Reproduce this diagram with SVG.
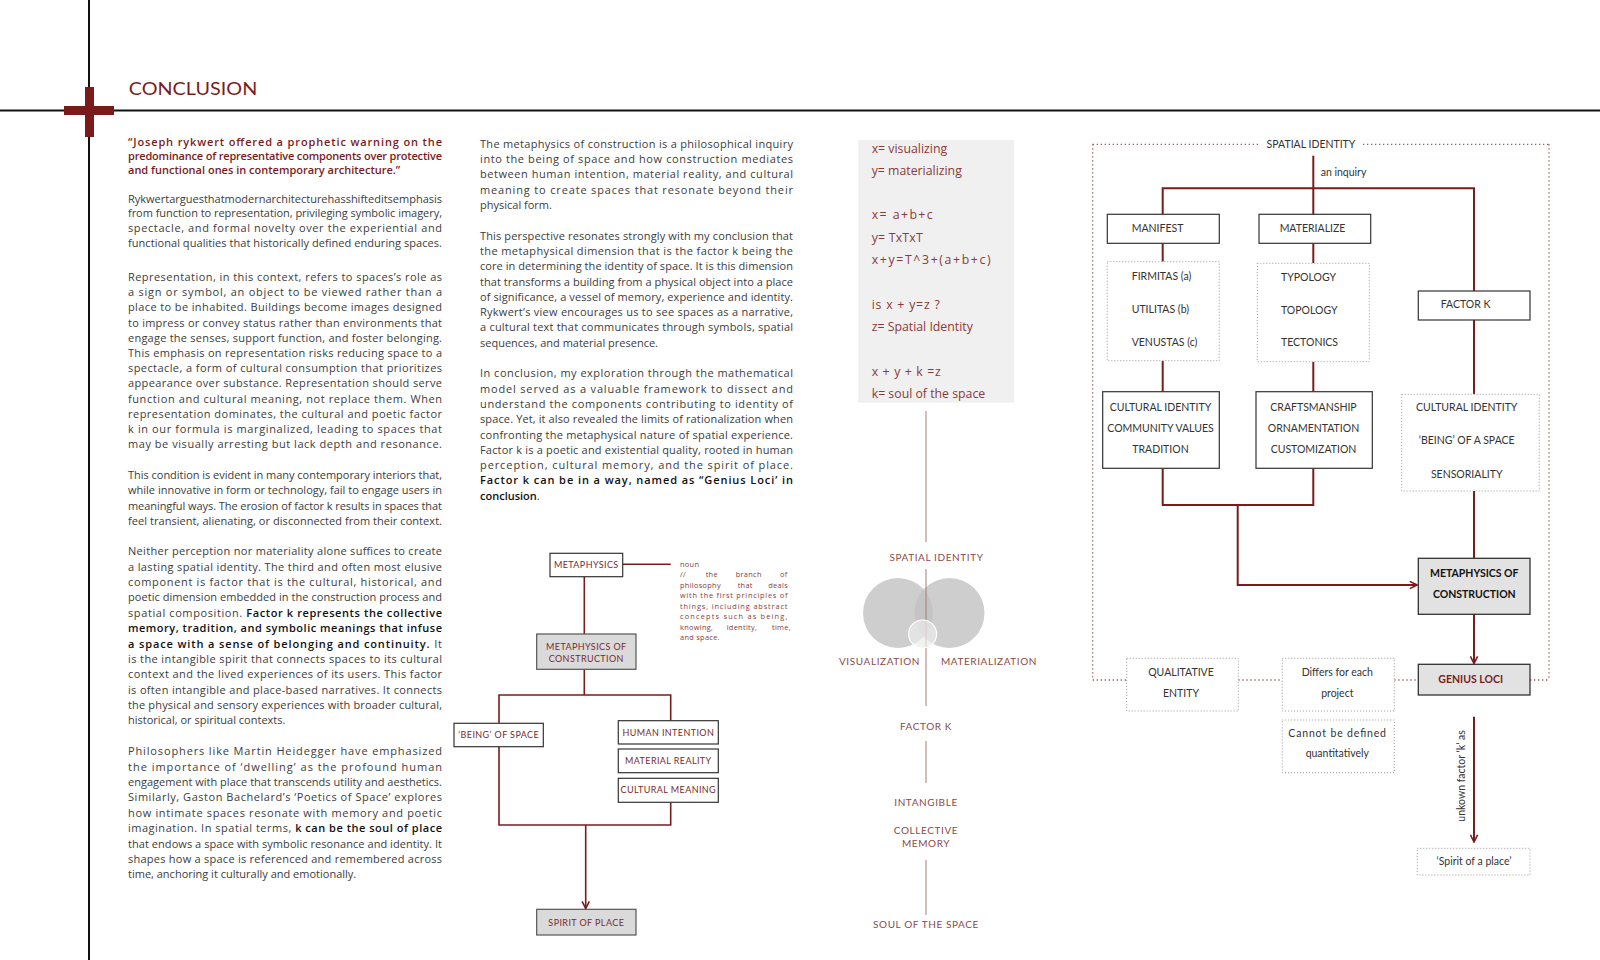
<svg xmlns="http://www.w3.org/2000/svg" width="1600" height="960" viewBox="0 0 1600 960">
<defs>
<style>
text{font-family:Lato,"Liberation Sans",sans-serif}
.body{font-family:"Open Sans","Liberation Sans",sans-serif;font-size:11px;fill:#3c3c3c}
.b{font-weight:600;fill:#111}
.quote{font-family:"Open Sans","Liberation Sans",sans-serif;font-size:11px;font-weight:600;fill:#7b1c1c}
.conn{stroke:#7b1c1c;stroke-width:2;fill:none}
.conn2{stroke:#7b1c1c;stroke-width:1.6;fill:none}
.thin{stroke:#a87a7a;stroke-width:1;fill:none}
.box{fill:#fff;stroke:#333;stroke-width:1.2}
.gbox{fill:#dadada;stroke:#555;stroke-width:1.2}
.gbox2{fill:#e2e2e2;stroke:#333;stroke-width:1.3}
.dbox{fill:#fff;stroke:#9a9a9a;stroke-width:1;stroke-dasharray:1 2}
.frame{fill:none;stroke:#9a5a5a;stroke-width:1.3;stroke-dasharray:1.3 2.7}
.lab{font-size:10.5px;fill:#333;text-anchor:middle}
.labs{font-size:10.5px;fill:#333}
.fl{font-size:9px;fill:#7b2a2a;text-anchor:middle;letter-spacing:0.4px}
.def{font-family:"Open Sans","Liberation Sans",sans-serif;font-size:7.4px;fill:#8b3b3b;letter-spacing:0.3px}
.fm{font-family:"Open Sans","Liberation Sans",sans-serif;font-size:12.3px;fill:#8b3a3a}
.cl{font-size:10px;fill:#8b4a4a;text-anchor:middle;letter-spacing:0.6px}
</style>
<marker id="chev" viewBox="0 0 10 10" refX="9" refY="5" markerWidth="9" markerHeight="9" orient="auto" markerUnits="userSpaceOnUse">
<path d="M1,1 L9,5 L1,9" fill="none" stroke="#7b1c1c" stroke-width="1.8"/>
</marker>
</defs>
<rect width="1600" height="960" fill="#fff"/>

<g id="page-frame">
<line x1="0" y1="110.5" x2="1600" y2="110.5" stroke="#111" stroke-width="2"/>
<line x1="89" y1="0" x2="89" y2="960" stroke="#111" stroke-width="2"/>
<rect x="85" y="87" width="9" height="50" fill="#7a1b1b"/>
<rect x="64" y="106" width="50" height="9" fill="#7a1b1b"/>
<text x="128.7" y="95" font-size="18" fill="#7b1c1c" textLength="128.6" lengthAdjust="spacingAndGlyphs">CONCLUSION</text>
</g>

<g id="col1-text">
<text class="quote" x="128" y="145.5" textLength="314" lengthAdjust="spacing">“Joseph rykwert offered a prophetic warning on the</text>
<text class="quote" x="128" y="159.8" textLength="314" lengthAdjust="spacing">predominance of representative components over protective</text>
<text class="quote" x="128" y="174.1">and functional ones in contemporary architecture.”</text>

<text class="body" x="128" y="202.6" textLength="314" lengthAdjust="spacing">Rykwertarguesthatmodernarchitecturehasshifteditsemphasis</text>
<text class="body" x="128" y="217.3" textLength="314" lengthAdjust="spacing">from function to representation, privileging symbolic imagery,</text>
<text class="body" x="128" y="232" textLength="314" lengthAdjust="spacing">spectacle, and formal novelty over the experiential and</text>
<text class="body" x="128" y="246.7" textLength="314" lengthAdjust="spacing">functional qualities that historically defined enduring spaces.</text>

<text class="body" x="128" y="281" textLength="314" lengthAdjust="spacing">Representation, in this context, refers to spaces’s role as</text>
<text class="body" x="128" y="296.2" textLength="314" lengthAdjust="spacing">a sign or symbol, an object to be viewed rather than a</text>
<text class="body" x="128" y="311.4" textLength="314" lengthAdjust="spacing">place to be inhabited. Buildings become images designed</text>
<text class="body" x="128" y="326.6" textLength="314" lengthAdjust="spacing">to impress or convey status rather than environments that</text>
<text class="body" x="128" y="341.8" textLength="314" lengthAdjust="spacing">engage the senses, support function, and foster belonging.</text>
<text class="body" x="128" y="357" textLength="314" lengthAdjust="spacing">This emphasis on representation risks reducing space to a</text>
<text class="body" x="128" y="372.2" textLength="314" lengthAdjust="spacing">spectacle, a form of cultural consumption that prioritizes</text>
<text class="body" x="128" y="387.4" textLength="314" lengthAdjust="spacing">appearance over substance. Representation should serve</text>
<text class="body" x="128" y="402.6" textLength="314" lengthAdjust="spacing">function and cultural meaning, not replace them. When</text>
<text class="body" x="128" y="417.8" textLength="314" lengthAdjust="spacing">representation dominates, the cultural and poetic factor</text>
<text class="body" x="128" y="433" textLength="314" lengthAdjust="spacing">k in our formula is marginalized, leading to spaces that</text>
<text class="body" x="128" y="448.2" textLength="314" lengthAdjust="spacing">may be visually arresting but lack depth and resonance.</text>

<text class="body" x="128" y="479" textLength="314" lengthAdjust="spacing">This condition is evident in many contemporary interiors that,</text>
<text class="body" x="128" y="494.3" textLength="314" lengthAdjust="spacing">while innovative in form or technology, fail to engage users in</text>
<text class="body" x="128" y="509.6" textLength="314" lengthAdjust="spacing">meaningful ways. The erosion of factor k results in spaces that</text>
<text class="body" x="128" y="524.9" textLength="314" lengthAdjust="spacing">feel transient, alienating, or disconnected from their context.</text>

<text class="body" x="128" y="555.3" textLength="314" lengthAdjust="spacing">Neither perception nor materiality alone suffices to create</text>
<text class="body" x="128" y="570.6" textLength="314" lengthAdjust="spacing">a lasting spatial identity. The third and often most elusive</text>
<text class="body" x="128" y="586" textLength="314" lengthAdjust="spacing">component is factor that is the cultural, historical, and</text>
<text class="body" x="128" y="601.4" textLength="314" lengthAdjust="spacing">poetic dimension embedded in the construction process and</text>
<text class="body" x="128" y="616.8" textLength="314" lengthAdjust="spacing">spatial composition. <tspan class="b">Factor k represents the collective</tspan></text>
<text class="body" x="128" y="632.1" textLength="314" lengthAdjust="spacing"><tspan class="b">memory, tradition, and symbolic meanings that infuse</tspan></text>
<text class="body" x="128" y="647.5" textLength="314" lengthAdjust="spacing"><tspan class="b">a space with a sense of belonging and continuity.</tspan> It</text>
<text class="body" x="128" y="662.9" textLength="314" lengthAdjust="spacing">is the intangible spirit that connects spaces to its cultural</text>
<text class="body" x="128" y="678.3" textLength="314" lengthAdjust="spacing">context and the lived experiences of its users. This factor</text>
<text class="body" x="128" y="693.6" textLength="314" lengthAdjust="spacing">is often intangible and place-based narratives. It connects</text>
<text class="body" x="128" y="709" textLength="314" lengthAdjust="spacing">the physical and sensory experiences with broader cultural,</text>
<text class="body" x="128" y="724.4">historical, or spiritual contexts.</text>

<text class="body" x="128" y="755.2" textLength="314" lengthAdjust="spacing">Philosophers like Martin Heidegger have emphasized</text>
<text class="body" x="128" y="770.6" textLength="314" lengthAdjust="spacing">the importance of ‘dwelling’ as the profound human</text>
<text class="body" x="128" y="786" textLength="314" lengthAdjust="spacing">engagement with place that transcends utility and aesthetics.</text>
<text class="body" x="128" y="801.3" textLength="314" lengthAdjust="spacing">Similarly, Gaston Bachelard’s ‘Poetics of Space’ explores</text>
<text class="body" x="128" y="816.7" textLength="314" lengthAdjust="spacing">how intimate spaces resonate with memory and poetic</text>
<text class="body" x="128" y="832.1" textLength="314" lengthAdjust="spacing">imagination. In spatial terms, <tspan class="b">k can be the soul of place</tspan></text>
<text class="body" x="128" y="847.5" textLength="314" lengthAdjust="spacing">that endows a space with symbolic resonance and identity. It</text>
<text class="body" x="128" y="862.8" textLength="314" lengthAdjust="spacing">shapes how a space is referenced and remembered across</text>
<text class="body" x="128" y="878.2">time, anchoring it culturally and emotionally.</text>
</g>

<g id="col2-text">
<text class="body" x="480" y="147.8" textLength="313" lengthAdjust="spacing">The metaphysics of construction is a philosophical inquiry</text>
<text class="body" x="480" y="163.1" textLength="313" lengthAdjust="spacing">into the being of space and how construction mediates</text>
<text class="body" x="480" y="178.4" textLength="313" lengthAdjust="spacing">between human intention, material reality, and cultural</text>
<text class="body" x="480" y="193.7" textLength="313" lengthAdjust="spacing">meaning to create spaces that resonate beyond their</text>
<text class="body" x="480" y="209">physical form.</text>

<text class="body" x="480" y="239.6" textLength="313" lengthAdjust="spacing">This perspective resonates strongly with my conclusion that</text>
<text class="body" x="480" y="254.9" textLength="313" lengthAdjust="spacing">the metaphysical dimension that is the factor k being the</text>
<text class="body" x="480" y="270.2" textLength="313" lengthAdjust="spacing">core in determining the identity of space. It is this dimension</text>
<text class="body" x="480" y="285.5" textLength="313" lengthAdjust="spacing">that transforms a building from a physical object into a place</text>
<text class="body" x="480" y="300.8" textLength="313" lengthAdjust="spacing">of significance, a vessel of memory, experience and identity.</text>
<text class="body" x="480" y="316.1" textLength="313" lengthAdjust="spacing">Rykwert’s view encourages us to see spaces as a narrative,</text>
<text class="body" x="480" y="331.4" textLength="313" lengthAdjust="spacing">a cultural text that communicates through symbols, spatial</text>
<text class="body" x="480" y="346.7">sequences, and material presence.</text>

<text class="body" x="480" y="377.3" textLength="313" lengthAdjust="spacing">In conclusion, my exploration through the mathematical</text>
<text class="body" x="480" y="392.6" textLength="313" lengthAdjust="spacing">model served as a valuable framework to dissect and</text>
<text class="body" x="480" y="407.9" textLength="313" lengthAdjust="spacing">understand the components contributing to identity of</text>
<text class="body" x="480" y="423.2" textLength="313" lengthAdjust="spacing">space. Yet, it also revealed the limits of rationalization when</text>
<text class="body" x="480" y="438.5" textLength="313" lengthAdjust="spacing">confronting the metaphysical nature of spatial experience.</text>
<text class="body" x="480" y="453.8" textLength="313" lengthAdjust="spacing">Factor k is a poetic and existential quality, rooted in human</text>
<text class="body" x="480" y="469.1" textLength="313" lengthAdjust="spacing">perception, cultural memory, and the spirit of place.</text>
<text class="body" x="480" y="484.4" textLength="313" lengthAdjust="spacing"><tspan class="b">Factor k can be in a way, named as “Genius Loci’ in</tspan></text>
<text class="body" x="480" y="499.7"><tspan class="b">conclusion</tspan>.</text>
</g>

<g id="col2-connectors">
<path class="conn2" d="M622.7,564.3 H670.7"/>
<path class="conn2" d="M584.3,576.7 V634"/>
<path class="conn2" d="M584.3,669.3 V695"/>
<path class="conn2" d="M499,723.3 V695 H670.7 V720.7"/>
<path class="conn2" d="M499,746.7 V825 H670.7 V802.3"/>
<path class="conn2" d="M585.7,825 V908.5" marker-end="url(#chev)"/>
</g>
<g id="node-metaphysics">
<rect class="box" x="550" y="553.3" width="72.7" height="23.4"/>
<text class="fl" x="586.3" y="567.5">METAPHYSICS</text>
</g>
<g id="node-definition">
<text class="def" x="680" y="566.7">noun</text>
<text class="def" y="577.2"><tspan x="680">//</tspan> <tspan x="705.7">the</tspan> <tspan x="735.7">branch</tspan> <tspan x="780">of</tspan></text>
<text class="def" y="587.7"><tspan x="680">philosophy</tspan> <tspan x="737.7">that</tspan> <tspan x="768.3">deals</tspan></text>
<text class="def" x="680" y="598.2" textLength="107.7" lengthAdjust="spacing">with the first principles of</text>
<text class="def" x="680" y="608.7" textLength="107.7" lengthAdjust="spacing">things, including abstract</text>
<text class="def" x="680" y="619.2" textLength="107.7" lengthAdjust="spacing">concepts such as being,</text>
<text class="def" y="629.7"><tspan x="680">knowing,</tspan> <tspan x="726.7">identity,</tspan> <tspan x="772">time,</tspan></text>
<text class="def" x="680" y="640.2">and space.</text>
</g>
<g id="node-moc-left">
<rect class="gbox" x="536.7" y="634" width="99.3" height="35.3"/>
<text class="fl" x="586.3" y="649.5">METAPHYSICS OF</text>
<text class="fl" x="586.3" y="661.5">CONSTRUCTION</text>
</g>
<g id="node-being">
<rect class="box" x="454" y="723.3" width="89.3" height="23.4"/>
<text class="fl" x="498.7" y="737.8">‘BEING’ OF SPACE</text>
</g>
<g id="node-human">
<rect class="box" x="618.3" y="720.7" width="100" height="23.3"/>
<text class="fl" x="668.3" y="735.5">HUMAN INTENTION</text>
</g>
<g id="node-material">
<rect class="box" x="618.3" y="749" width="100" height="23.7"/>
<text class="fl" x="668.3" y="763.5">MATERIAL REALITY</text>
</g>
<g id="node-cultural">
<rect class="box" x="618.3" y="778.3" width="100" height="24"/>
<text class="fl" x="668.3" y="793">CULTURAL MEANING</text>
</g>
<g id="node-spirit">
<rect class="gbox" x="536.7" y="909.3" width="99.3" height="25.7"/>
<text class="fl" x="586.3" y="925.7">SPIRIT OF PLACE</text>
</g>

<g id="node-formula">
<rect x="858.3" y="140" width="155.7" height="262.7" fill="#f0f0f0"/>
<text class="fm" x="871.7" y="152.5">x= visualizing</text>
<text class="fm" x="871.7" y="174.8">y= materializing</text>
<text class="fm" x="871.7" y="219.4" textLength="61" lengthAdjust="spacing">x= a+b+c</text>
<text class="fm" x="871.7" y="241.7" textLength="51" lengthAdjust="spacing">y= TxTxT</text>
<text class="fm" x="871.7" y="264" textLength="119" lengthAdjust="spacing">x+y=T^3+(a+b+c)</text>
<text class="fm" x="871.7" y="308.5" textLength="68" lengthAdjust="spacing">is x + y=z ?</text>
<text class="fm" x="871.7" y="330.8">z= Spatial Identity</text>
<text class="fm" x="871.7" y="375.5" textLength="69" lengthAdjust="spacing">x + y + k =z</text>
<text class="fm" x="871.7" y="397.8">k= soul of the space</text>
</g>
<g id="col3-connectors">
<path class="thin" d="M926,411 V542"/>
<path class="thin" d="M926,741 V783"/>
<path class="thin" d="M926,860 V915"/>
</g>
<g id="node-venn">
<circle cx="898" cy="613" r="35" fill="#c2c2c2" fill-opacity="0.8"/>
<circle cx="949.5" cy="613" r="35" fill="#c2c2c2" fill-opacity="0.8"/>
<path class="thin" d="M926,569 V706"/>
<circle cx="922.6" cy="634" r="14" fill="#ececec" fill-opacity="0.7" stroke="#fff" stroke-width="1.2"/>
</g>
<g id="col3-labels">
<text class="cl" x="936.5" y="561">SPATIAL IDENTITY</text>
<text class="cl" x="879.5" y="665">VISUALIZATION</text>
<text class="cl" x="989" y="665">MATERIALIZATION</text>
<text class="cl" x="926" y="729.5">FACTOR K</text>
<text class="cl" x="926" y="806">INTANGIBLE</text>
<text class="cl" x="926" y="833.5">COLLECTIVE</text>
<text class="cl" x="926" y="846.5">MEMORY</text>
<text class="cl" x="926" y="927.5">SOUL OF THE SPACE</text>
</g>

<g id="spatial-identity-frame">
<path class="frame" d="M1092.7,144.3 H1260 M1363,144.3 H1549 M1092.7,144.3 V680 M1549,144.3 V680 M1092.7,680 H1126.7 M1238.3,680 H1282.3 M1394.3,680 H1418.3 M1530,680 H1549"/>
<text class="lab" x="1311" y="147.7">SPATIAL IDENTITY</text>
<text class="labs" x="1320.7" y="175.7" font-size="10">an inquiry</text>
</g>
<g id="col4-connectors">
<path class="conn" d="M1313.3,155.7 V214.3"/>
<path class="conn" d="M1162.7,214.3 V188.3 H1474 V291"/>
<path class="conn" d="M1162.7,243.3 V261.7"/>
<path class="conn" d="M1313.3,243.3 V263.3"/>
<path class="conn" d="M1162.7,360.7 V391.7"/>
<path class="conn" d="M1313.3,361.7 V391.7"/>
<path class="conn" d="M1474,320 V394.3"/>
<path class="conn" d="M1162.7,468.3 V505 H1313.3 V468.3"/>
<path class="conn" d="M1237.7,505 V585 H1417" marker-end="url(#chev)"/>
<path class="conn" d="M1474,491 V558.3"/>
<path class="conn" d="M1474,614.3 V663.5" marker-end="url(#chev)"/>
<path class="conn" d="M1474,716.7 V842" marker-end="url(#chev)"/>
</g>
<g id="node-manifest">
<rect class="box" x="1107.3" y="214.3" width="112" height="29"/>
<text class="labs" x="1131.7" y="231.7">MANIFEST</text>
</g>
<g id="node-materialize">
<rect class="box" x="1259" y="214.3" width="111.7" height="29"/>
<text class="lab" x="1312.5" y="231.7">MATERIALIZE</text>
</g>
<g id="node-vitruvius">
<rect class="dbox" x="1107.3" y="261.7" width="112" height="99"/>
<text class="labs" x="1131.7" y="280">FIRMITAS (a)</text>
<text class="labs" x="1131.7" y="312.7">UTILITAS (b)</text>
<text class="labs" x="1131.7" y="346">VENUSTAS (c)</text>
</g>
<g id="node-typology">
<rect class="dbox" x="1257.3" y="263.3" width="112" height="98.4"/>
<text class="labs" x="1281" y="280.7">TYPOLOGY</text>
<text class="labs" x="1281" y="313.7">TOPOLOGY</text>
<text class="labs" x="1281" y="346.3">TECTONICS</text>
</g>
<g id="node-cultural-identity">
<rect class="box" x="1102.7" y="391.7" width="116.6" height="76.6"/>
<text class="lab" x="1160.5" y="411">CULTURAL IDENTITY</text>
<text class="lab" x="1160.5" y="431.7">COMMUNITY VALUES</text>
<text class="lab" x="1160.5" y="452.7">TRADITION</text>
</g>
<g id="node-craftsmanship">
<rect class="box" x="1256" y="391.7" width="116.3" height="76.6"/>
<text class="lab" x="1313.5" y="411">CRAFTSMANSHIP</text>
<text class="lab" x="1313.5" y="431.7">ORNAMENTATION</text>
<text class="lab" x="1313.5" y="452.7">CUSTOMIZATION</text>
</g>
<g id="node-factor-k">
<rect class="box" x="1418.3" y="291" width="111.7" height="29"/>
<text class="labs" x="1440.7" y="308.3">FACTOR K</text>
</g>
<g id="node-being-space">
<rect class="dbox" x="1401.7" y="394.3" width="137.6" height="96.7"/>
<text class="lab" x="1466.7" y="411">CULTURAL IDENTITY</text>
<text class="lab" x="1466.7" y="444.3">‘BEING’ OF A SPACE</text>
<text class="lab" x="1466.7" y="477.7">SENSORIALITY</text>
</g>
<g id="node-moc-right">
<rect class="gbox2" x="1418.3" y="558.3" width="111.7" height="56"/>
<text class="lab" x="1474.3" y="576.7" font-weight="bold" style="fill:#111" font-size="11">METAPHYSICS OF</text>
<text class="lab" x="1474.3" y="597.7" font-weight="bold" style="fill:#111" font-size="11">CONSTRUCTION</text>
</g>
<g id="node-genius-loci">
<rect class="gbox2" x="1418.3" y="664.3" width="111.7" height="30.7"/>
<text class="lab" x="1470.7" y="682.7" font-weight="bold" style="fill:#7b1c1c" font-size="11">GENIUS LOCI</text>
</g>
<g id="node-qualitative">
<rect class="dbox" x="1126.7" y="658.3" width="111.6" height="52.7"/>
<text class="lab" x="1181" y="675.7">QUALITATIVE</text>
<text class="lab" x="1181" y="696.7">ENTITY</text>
</g>
<g id="node-differs">
<rect class="dbox" x="1282.3" y="658.3" width="112" height="52.7"/>
<text class="lab" x="1337.3" y="675.7">Differs for each</text>
<text class="lab" x="1337.3" y="696.7">project</text>
</g>
<g id="node-cannot">
<rect class="dbox" x="1282.3" y="720" width="112" height="52.7"/>
<text class="labs" x="1288.3" y="736.7" textLength="97.7" lengthAdjust="spacing">Cannot be defined</text>
<text class="lab" x="1337.3" y="757.3">quantitatively</text>
</g>
<g id="label-unknown">
<text class="labs" transform="translate(1465,821.7) rotate(-90)">unkown factor ‘k’ as</text>
</g>
<g id="node-spirit-place">
<rect class="dbox" x="1417.3" y="848.3" width="112.7" height="26.7"/>
<text class="lab" x="1474" y="865">‘Spirit of  a place’</text>
</g>
</svg>
